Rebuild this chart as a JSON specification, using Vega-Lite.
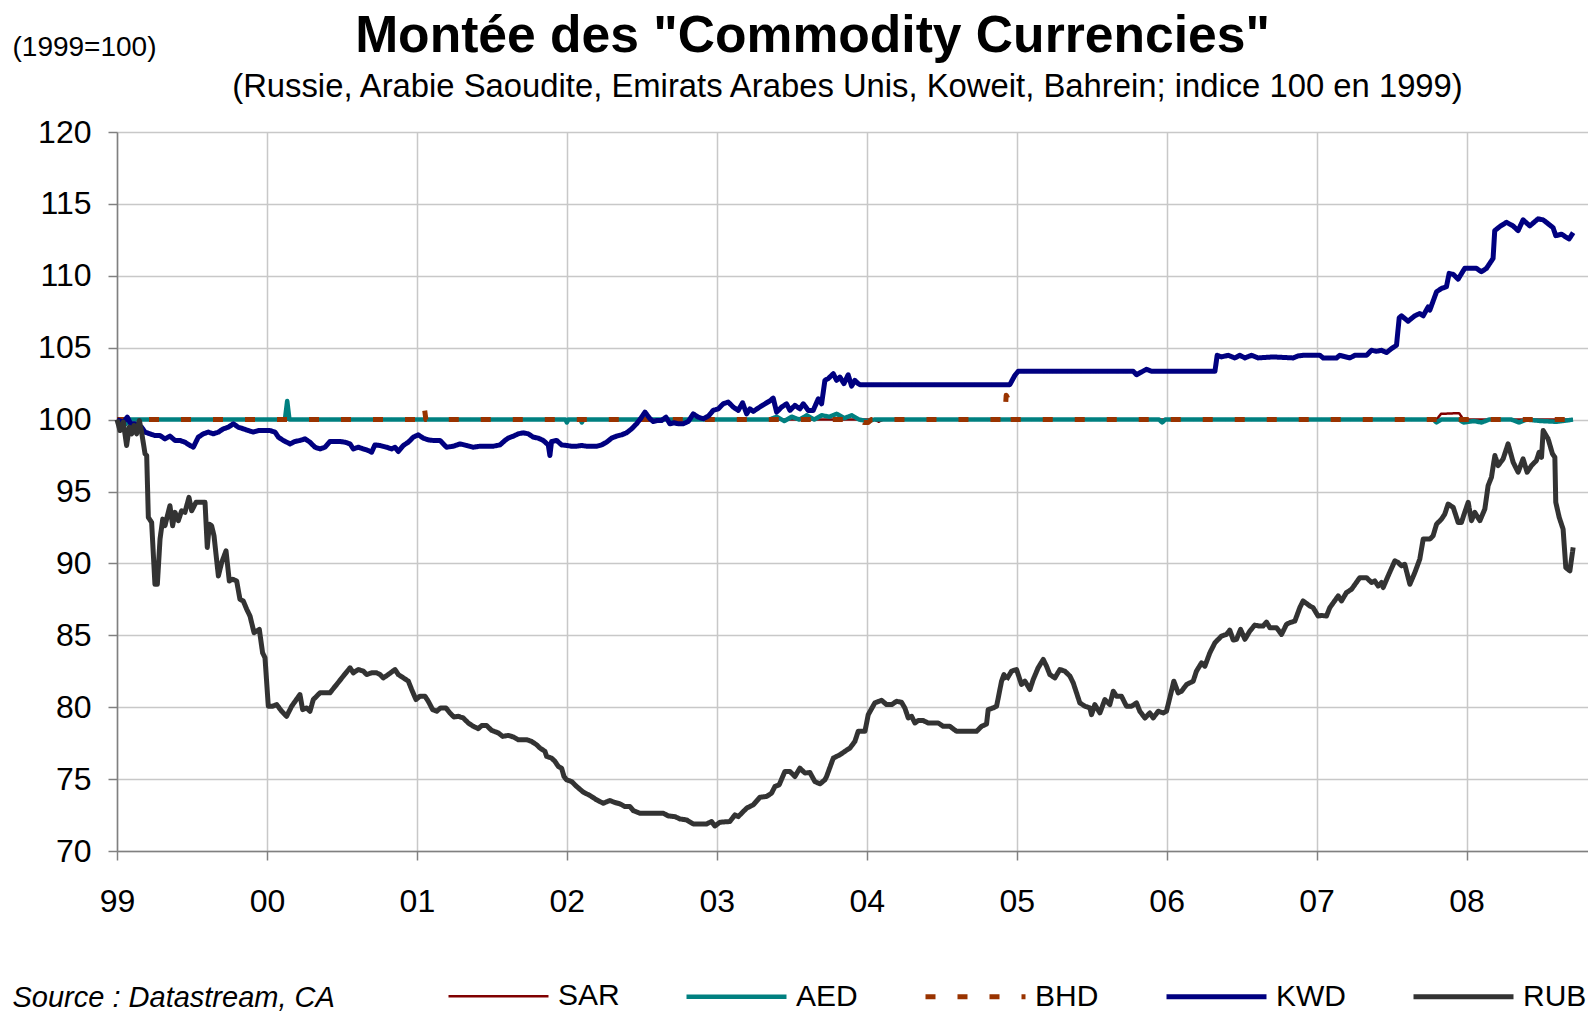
{
"$schema":"https://vega.github.io/schema/vega-lite/v6.json",
"width":1471,"height":719,
"autosize":{"type":"none"},
"padding":{"left":117,"top":132,"right":0,"bottom":163},
"background":"white",
"config":{"view":{"stroke":null},"font":"Liberation Sans"},
"title":{"text":"Montée des \"Commodity Currencies\"","subtitle":"(Russie, Arabie Saoudite, Emirats Arabes Unis, Koweit, Bahrein; indice 100 en 1999)","font":"Liberation Sans","fontSize":51.6,"fontWeight":"bold","color":"black","subtitleFont":"Liberation Sans","subtitleFontSize":32.8,"subtitleColor":"black","subtitlePadding":9,"anchor":"middle","frame":"group","offset":-71,"encode":{"title":{"update":{"dx":{"value":-40}}},"subtitle":{"update":{"dx":{"value":-5}}}}},
"data":{"values":[
{"s":"SAR","t":1999.0,"v":100},{"s":"SAR","t":2004.05,"v":100},{"s":"SAR","t":2004.08,"v":99.85},{"s":"SAR","t":2004.11,"v":100},{"s":"SAR","t":2007.8,"v":100},{"s":"SAR","t":2007.83,"v":100.4},{"s":"SAR","t":2007.95,"v":100.45},{"s":"SAR","t":2007.98,"v":100},{"s":"SAR","t":2008.71,"v":100},
{"s":"AED","t":1999.0,"v":100},{"s":"AED","t":1999.03,"v":99.6},{"s":"AED","t":1999.06,"v":99.7},{"s":"AED","t":1999.08,"v":100},{"s":"AED","t":2000.12,"v":100},{"s":"AED","t":2000.135,"v":101.3},{"s":"AED","t":2000.15,"v":100},{"s":"AED","t":2001.99,"v":100},{"s":"AED","t":2002.0,"v":99.8},{"s":"AED","t":2002.01,"v":100},{"s":"AED","t":2002.09,"v":100},{"s":"AED","t":2002.1,"v":99.8},{"s":"AED","t":2002.11,"v":100},{"s":"AED","t":2003.35,"v":100},{"s":"AED","t":2003.4,"v":100.2},{"s":"AED","t":2003.45,"v":99.9},{"s":"AED","t":2003.5,"v":100.2},{"s":"AED","t":2003.55,"v":100},{"s":"AED","t":2003.6,"v":100.3},{"s":"AED","t":2003.65,"v":100},{"s":"AED","t":2003.7,"v":100.3},{"s":"AED","t":2003.75,"v":100.2},{"s":"AED","t":2003.8,"v":100.4},{"s":"AED","t":2003.85,"v":100.1},{"s":"AED","t":2003.9,"v":100.3},{"s":"AED","t":2003.95,"v":100},{"s":"AED","t":2004.0,"v":99.9},{"s":"AED","t":2004.05,"v":100},{"s":"AED","t":2005.95,"v":100},{"s":"AED","t":2005.97,"v":99.8},{"s":"AED","t":2005.99,"v":100},{"s":"AED","t":2007.78,"v":100},{"s":"AED","t":2007.8,"v":99.8},{"s":"AED","t":2007.83,"v":100},{"s":"AED","t":2007.95,"v":100},{"s":"AED","t":2007.98,"v":99.8},{"s":"AED","t":2008.05,"v":99.9},{"s":"AED","t":2008.1,"v":99.8},{"s":"AED","t":2008.15,"v":100},{"s":"AED","t":2008.3,"v":100},{"s":"AED","t":2008.35,"v":99.8},{"s":"AED","t":2008.4,"v":100},{"s":"AED","t":2008.5,"v":99.9},{"s":"AED","t":2008.6,"v":99.85},{"s":"AED","t":2008.71,"v":100},
{"s":"BHD","t":1999.0,"v":100},{"s":"BHD","t":2001.04,"v":100},{"s":"BHD","t":2001.05,"v":100.8},{"s":"BHD","t":2001.06,"v":100},{"s":"BHD","t":2003.96,"v":100},{"s":"BHD","t":2003.98,"v":99.8},{"s":"BHD","t":2004.01,"v":99.8},{"s":"BHD","t":2004.03,"v":100},{"s":"BHD","t":2004.92,"v":100},{"s":"BHD","t":2004.93,"v":101.7},{"s":"BHD","t":2004.95,"v":101.3},{"s":"BHD","t":2004.96,"v":100},{"s":"BHD","t":2008.71,"v":100},
{"s":"KWD","t":1999.0,"v":100},{"s":"KWD","t":1999.042,"v":99.82},{"s":"KWD","t":1999.069,"v":100.17},{"s":"KWD","t":1999.091,"v":99.71},{"s":"KWD","t":1999.12,"v":99.71},{"s":"KWD","t":1999.164,"v":99.47},{"s":"KWD","t":1999.187,"v":99.13},{"s":"KWD","t":1999.22,"v":99.01},{"s":"KWD","t":1999.253,"v":98.89},{"s":"KWD","t":1999.287,"v":98.89},{"s":"KWD","t":1999.32,"v":98.66},{"s":"KWD","t":1999.353,"v":98.85},{"s":"KWD","t":1999.387,"v":98.55},{"s":"KWD","t":1999.42,"v":98.55},{"s":"KWD","t":1999.453,"v":98.43},{"s":"KWD","t":1999.487,"v":98.2},{"s":"KWD","t":1999.509,"v":98.08},{"s":"KWD","t":1999.542,"v":98.78},{"s":"KWD","t":1999.576,"v":99.01},{"s":"KWD","t":1999.609,"v":99.13},{"s":"KWD","t":1999.642,"v":99.01},{"s":"KWD","t":1999.676,"v":99.13},{"s":"KWD","t":1999.709,"v":99.36},{"s":"KWD","t":1999.742,"v":99.47},{"s":"KWD","t":1999.776,"v":99.71},{"s":"KWD","t":1999.809,"v":99.47},{"s":"KWD","t":1999.842,"v":99.36},{"s":"KWD","t":1999.876,"v":99.24},{"s":"KWD","t":1999.909,"v":99.13},{"s":"KWD","t":1999.942,"v":99.24},{"s":"KWD","t":1999.976,"v":99.24},{"s":"KWD","t":2000.02,"v":99.24},{"s":"KWD","t":2000.054,"v":99.13},{"s":"KWD","t":2000.076,"v":98.78},{"s":"KWD","t":2000.109,"v":98.55},{"s":"KWD","t":2000.154,"v":98.31},{"s":"KWD","t":2000.187,"v":98.48},{"s":"KWD","t":2000.22,"v":98.55},{"s":"KWD","t":2000.254,"v":98.66},{"s":"KWD","t":2000.287,"v":98.43},{"s":"KWD","t":2000.32,"v":98.08},{"s":"KWD","t":2000.354,"v":97.96},{"s":"KWD","t":2000.387,"v":98.08},{"s":"KWD","t":2000.42,"v":98.48},{"s":"KWD","t":2000.487,"v":98.48},{"s":"KWD","t":2000.52,"v":98.43},{"s":"KWD","t":2000.554,"v":98.31},{"s":"KWD","t":2000.576,"v":97.96},{"s":"KWD","t":2000.609,"v":98.08},{"s":"KWD","t":2000.643,"v":97.96},{"s":"KWD","t":2000.676,"v":97.85},{"s":"KWD","t":2000.698,"v":97.73},{"s":"KWD","t":2000.72,"v":98.24},{"s":"KWD","t":2000.754,"v":98.2},{"s":"KWD","t":2000.798,"v":98.08},{"s":"KWD","t":2000.831,"v":97.96},{"s":"KWD","t":2000.854,"v":98.08},{"s":"KWD","t":2000.876,"v":97.78},{"s":"KWD","t":2000.909,"v":98.2},{"s":"KWD","t":2000.943,"v":98.43},{"s":"KWD","t":2000.976,"v":98.78},{"s":"KWD","t":2001.009,"v":98.94},{"s":"KWD","t":2001.043,"v":98.71},{"s":"KWD","t":2001.076,"v":98.59},{"s":"KWD","t":2001.109,"v":98.55},{"s":"KWD","t":2001.154,"v":98.55},{"s":"KWD","t":2001.198,"v":98.08},{"s":"KWD","t":2001.243,"v":98.15},{"s":"KWD","t":2001.287,"v":98.31},{"s":"KWD","t":2001.332,"v":98.2},{"s":"KWD","t":2001.376,"v":98.08},{"s":"KWD","t":2001.42,"v":98.15},{"s":"KWD","t":2001.465,"v":98.15},{"s":"KWD","t":2001.509,"v":98.15},{"s":"KWD","t":2001.554,"v":98.24},{"s":"KWD","t":2001.587,"v":98.55},{"s":"KWD","t":2001.609,"v":98.71},{"s":"KWD","t":2001.643,"v":98.85},{"s":"KWD","t":2001.676,"v":99.01},{"s":"KWD","t":2001.709,"v":99.08},{"s":"KWD","t":2001.743,"v":99.01},{"s":"KWD","t":2001.776,"v":98.78},{"s":"KWD","t":2001.809,"v":98.71},{"s":"KWD","t":2001.843,"v":98.55},{"s":"KWD","t":2001.876,"v":98.24},{"s":"KWD","t":2001.887,"v":97.5},{"s":"KWD","t":2001.898,"v":98.48},{"s":"KWD","t":2001.932,"v":98.55},{"s":"KWD","t":2001.965,"v":98.24},{"s":"KWD","t":2001.998,"v":98.2},{"s":"KWD","t":2002.032,"v":98.15},{"s":"KWD","t":2002.065,"v":98.15},{"s":"KWD","t":2002.098,"v":98.2},{"s":"KWD","t":2002.132,"v":98.15},{"s":"KWD","t":2002.165,"v":98.15},{"s":"KWD","t":2002.198,"v":98.15},{"s":"KWD","t":2002.232,"v":98.24},{"s":"KWD","t":2002.265,"v":98.43},{"s":"KWD","t":2002.298,"v":98.71},{"s":"KWD","t":2002.332,"v":98.85},{"s":"KWD","t":2002.365,"v":98.94},{"s":"KWD","t":2002.398,"v":99.08},{"s":"KWD","t":2002.432,"v":99.36},{"s":"KWD","t":2002.465,"v":99.71},{"s":"KWD","t":2002.494,"v":100.1},{"s":"KWD","t":2002.521,"v":100.52},{"s":"KWD","t":2002.554,"v":100.06},{"s":"KWD","t":2002.576,"v":99.87},{"s":"KWD","t":2002.603,"v":99.94},{"s":"KWD","t":2002.632,"v":99.94},{"s":"KWD","t":2002.661,"v":100.17},{"s":"KWD","t":2002.687,"v":99.71},{"s":"KWD","t":2002.714,"v":99.78},{"s":"KWD","t":2002.743,"v":99.71},{"s":"KWD","t":2002.776,"v":99.71},{"s":"KWD","t":2002.81,"v":99.87},{"s":"KWD","t":2002.843,"v":100.4},{"s":"KWD","t":2002.876,"v":100.17},{"s":"KWD","t":2002.91,"v":100.06},{"s":"KWD","t":2002.943,"v":100.24},{"s":"KWD","t":2002.976,"v":100.64},{"s":"KWD","t":2003.01,"v":100.75},{"s":"KWD","t":2003.043,"v":101.1},{"s":"KWD","t":2003.076,"v":101.22},{"s":"KWD","t":2003.11,"v":100.87},{"s":"KWD","t":2003.143,"v":100.64},{"s":"KWD","t":2003.172,"v":101.17},{"s":"KWD","t":2003.199,"v":100.4},{"s":"KWD","t":2003.221,"v":100.75},{"s":"KWD","t":2003.243,"v":100.57},{"s":"KWD","t":2003.276,"v":100.8},{"s":"KWD","t":2003.31,"v":101.03},{"s":"KWD","t":2003.354,"v":101.3},{"s":"KWD","t":2003.376,"v":101.5},{"s":"KWD","t":2003.399,"v":100.52},{"s":"KWD","t":2003.432,"v":100.87},{"s":"KWD","t":2003.465,"v":101.1},{"s":"KWD","t":2003.488,"v":100.64},{"s":"KWD","t":2003.521,"v":100.99},{"s":"KWD","t":2003.554,"v":100.75},{"s":"KWD","t":2003.577,"v":101.1},{"s":"KWD","t":2003.61,"v":100.64},{"s":"KWD","t":2003.643,"v":100.64},{"s":"KWD","t":2003.677,"v":101.45},{"s":"KWD","t":2003.699,"v":101.1},{"s":"KWD","t":2003.721,"v":102.73},{"s":"KWD","t":2003.743,"v":102.85},{"s":"KWD","t":2003.777,"v":103.19},{"s":"KWD","t":2003.799,"v":102.73},{"s":"KWD","t":2003.821,"v":102.96},{"s":"KWD","t":2003.848,"v":102.5},{"s":"KWD","t":2003.876,"v":103.12},{"s":"KWD","t":2003.899,"v":102.33},{"s":"KWD","t":2003.921,"v":102.73},{"s":"KWD","t":2003.943,"v":102.5},{"s":"KWD","t":2003.954,"v":102.43},{"s":"KWD","t":2004.954,"v":102.43},{"s":"KWD","t":2004.988,"v":103.08},{"s":"KWD","t":2005.01,"v":103.36},{"s":"KWD","t":2005.777,"v":103.36},{"s":"KWD","t":2005.799,"v":103.12},{"s":"KWD","t":2005.832,"v":103.31},{"s":"KWD","t":2005.866,"v":103.5},{"s":"KWD","t":2005.899,"v":103.36},{"s":"KWD","t":2006.322,"v":103.36},{"s":"KWD","t":2006.337,"v":104.47},{"s":"KWD","t":2006.366,"v":104.36},{"s":"KWD","t":2006.41,"v":104.47},{"s":"KWD","t":2006.455,"v":104.29},{"s":"KWD","t":2006.488,"v":104.47},{"s":"KWD","t":2006.522,"v":104.29},{"s":"KWD","t":2006.566,"v":104.47},{"s":"KWD","t":2006.61,"v":104.29},{"s":"KWD","t":2006.71,"v":104.36},{"s":"KWD","t":2006.844,"v":104.29},{"s":"KWD","t":2006.877,"v":104.43},{"s":"KWD","t":2006.91,"v":104.47},{"s":"KWD","t":2007.022,"v":104.47},{"s":"KWD","t":2007.044,"v":104.29},{"s":"KWD","t":2007.133,"v":104.29},{"s":"KWD","t":2007.155,"v":104.47},{"s":"KWD","t":2007.222,"v":104.29},{"s":"KWD","t":2007.255,"v":104.47},{"s":"KWD","t":2007.333,"v":104.47},{"s":"KWD","t":2007.366,"v":104.82},{"s":"KWD","t":2007.399,"v":104.75},{"s":"KWD","t":2007.433,"v":104.82},{"s":"KWD","t":2007.466,"v":104.66},{"s":"KWD","t":2007.5,"v":104.94},{"s":"KWD","t":2007.533,"v":105.17},{"s":"KWD","t":2007.551,"v":107.08},{"s":"KWD","t":2007.566,"v":107.22},{"s":"KWD","t":2007.61,"v":106.84},{"s":"KWD","t":2007.655,"v":107.22},{"s":"KWD","t":2007.688,"v":107.38},{"s":"KWD","t":2007.711,"v":107.22},{"s":"KWD","t":2007.744,"v":107.84},{"s":"KWD","t":2007.755,"v":107.61},{"s":"KWD","t":2007.8,"v":108.89},{"s":"KWD","t":2007.833,"v":109.12},{"s":"KWD","t":2007.866,"v":109.24},{"s":"KWD","t":2007.884,"v":110.17},{"s":"KWD","t":2007.911,"v":110.1},{"s":"KWD","t":2007.944,"v":109.77},{"s":"KWD","t":2007.988,"v":110.52},{"s":"KWD","t":2008.066,"v":110.52},{"s":"KWD","t":2008.099,"v":110.28},{"s":"KWD","t":2008.133,"v":110.52},{"s":"KWD","t":2008.177,"v":111.21},{"s":"KWD","t":2008.188,"v":113.14},{"s":"KWD","t":2008.221,"v":113.42},{"s":"KWD","t":2008.266,"v":113.72},{"s":"KWD","t":2008.31,"v":113.47},{"s":"KWD","t":2008.344,"v":113.14},{"s":"KWD","t":2008.377,"v":113.89},{"s":"KWD","t":2008.422,"v":113.47},{"s":"KWD","t":2008.477,"v":113.96},{"s":"KWD","t":2008.511,"v":113.89},{"s":"KWD","t":2008.577,"v":113.35},{"s":"KWD","t":2008.595,"v":112.79},{"s":"KWD","t":2008.633,"v":112.89},{"s":"KWD","t":2008.684,"v":112.56},{"s":"KWD","t":2008.711,"v":113.0},
{"s":"RUB","t":1999.0,"v":100},{"s":"RUB","t":1999.02,"v":99.24},{"s":"RUB","t":1999.042,"v":99.82},{"s":"RUB","t":1999.064,"v":98.2},{"s":"RUB","t":1999.082,"v":99.47},{"s":"RUB","t":1999.098,"v":99.01},{"s":"RUB","t":1999.113,"v":99.59},{"s":"RUB","t":1999.131,"v":99.01},{"s":"RUB","t":1999.149,"v":99.94},{"s":"RUB","t":1999.164,"v":99.13},{"s":"RUB","t":1999.187,"v":97.62},{"s":"RUB","t":1999.198,"v":97.5},{"s":"RUB","t":1999.209,"v":93.2},{"s":"RUB","t":1999.231,"v":92.85},{"s":"RUB","t":1999.253,"v":88.55},{"s":"RUB","t":1999.269,"v":88.55},{"s":"RUB","t":1999.287,"v":91.69},{"s":"RUB","t":1999.305,"v":93.08},{"s":"RUB","t":1999.32,"v":92.62},{"s":"RUB","t":1999.336,"v":93.31},{"s":"RUB","t":1999.353,"v":94.01},{"s":"RUB","t":1999.371,"v":92.62},{"s":"RUB","t":1999.387,"v":93.55},{"s":"RUB","t":1999.409,"v":92.97},{"s":"RUB","t":1999.431,"v":93.66},{"s":"RUB","t":1999.453,"v":93.55},{"s":"RUB","t":1999.48,"v":94.59},{"s":"RUB","t":1999.498,"v":93.66},{"s":"RUB","t":1999.527,"v":94.25},{"s":"RUB","t":1999.587,"v":94.25},{"s":"RUB","t":1999.602,"v":91.11},{"s":"RUB","t":1999.616,"v":92.73},{"s":"RUB","t":1999.631,"v":92.62},{"s":"RUB","t":1999.647,"v":91.92},{"s":"RUB","t":1999.676,"v":89.13},{"s":"RUB","t":1999.698,"v":90.06},{"s":"RUB","t":1999.727,"v":90.87},{"s":"RUB","t":1999.749,"v":88.78},{"s":"RUB","t":1999.771,"v":88.9},{"s":"RUB","t":1999.798,"v":88.78},{"s":"RUB","t":1999.82,"v":87.5},{"s":"RUB","t":1999.842,"v":87.39},{"s":"RUB","t":1999.865,"v":86.81},{"s":"RUB","t":1999.887,"v":86.34},{"s":"RUB","t":1999.914,"v":85.18},{"s":"RUB","t":1999.949,"v":85.41},{"s":"RUB","t":1999.971,"v":83.78},{"s":"RUB","t":1999.987,"v":83.44},{"s":"RUB","t":2000.009,"v":80.07},{"s":"RUB","t":2000.038,"v":80.07},{"s":"RUB","t":2000.065,"v":80.18},{"s":"RUB","t":2000.098,"v":79.72},{"s":"RUB","t":2000.131,"v":79.37},{"s":"RUB","t":2000.165,"v":80.07},{"s":"RUB","t":2000.22,"v":80.88},{"s":"RUB","t":2000.238,"v":79.83},{"s":"RUB","t":2000.265,"v":79.95},{"s":"RUB","t":2000.287,"v":79.72},{"s":"RUB","t":2000.309,"v":80.53},{"s":"RUB","t":2000.354,"v":81.0},{"s":"RUB","t":2000.387,"v":81.0},{"s":"RUB","t":2000.42,"v":81.0},{"s":"RUB","t":2000.465,"v":81.58},{"s":"RUB","t":2000.509,"v":82.16},{"s":"RUB","t":2000.554,"v":82.74},{"s":"RUB","t":2000.576,"v":82.39},{"s":"RUB","t":2000.609,"v":82.62},{"s":"RUB","t":2000.643,"v":82.51},{"s":"RUB","t":2000.665,"v":82.27},{"s":"RUB","t":2000.698,"v":82.39},{"s":"RUB","t":2000.731,"v":82.39},{"s":"RUB","t":2000.754,"v":82.27},{"s":"RUB","t":2000.776,"v":82.04},{"s":"RUB","t":2000.809,"v":82.27},{"s":"RUB","t":2000.854,"v":82.62},{"s":"RUB","t":2000.876,"v":82.27},{"s":"RUB","t":2000.92,"v":81.97},{"s":"RUB","t":2000.943,"v":81.81},{"s":"RUB","t":2000.965,"v":81.23},{"s":"RUB","t":2000.994,"v":80.53},{"s":"RUB","t":2001.02,"v":80.76},{"s":"RUB","t":2001.054,"v":80.76},{"s":"RUB","t":2001.076,"v":80.41},{"s":"RUB","t":2001.105,"v":79.83},{"s":"RUB","t":2001.132,"v":79.72},{"s":"RUB","t":2001.158,"v":79.95},{"s":"RUB","t":2001.194,"v":79.95},{"s":"RUB","t":2001.22,"v":79.6},{"s":"RUB","t":2001.247,"v":79.32},{"s":"RUB","t":2001.276,"v":79.37},{"s":"RUB","t":2001.309,"v":79.25},{"s":"RUB","t":2001.343,"v":78.9},{"s":"RUB","t":2001.376,"v":78.67},{"s":"RUB","t":2001.409,"v":78.51},{"s":"RUB","t":2001.432,"v":78.72},{"s":"RUB","t":2001.465,"v":78.72},{"s":"RUB","t":2001.498,"v":78.39},{"s":"RUB","t":2001.543,"v":78.21},{"s":"RUB","t":2001.572,"v":77.97},{"s":"RUB","t":2001.609,"v":78.04},{"s":"RUB","t":2001.643,"v":77.93},{"s":"RUB","t":2001.676,"v":77.74},{"s":"RUB","t":2001.732,"v":77.74},{"s":"RUB","t":2001.765,"v":77.62},{"s":"RUB","t":2001.798,"v":77.39},{"s":"RUB","t":2001.821,"v":77.16},{"s":"RUB","t":2001.854,"v":76.93},{"s":"RUB","t":2001.865,"v":76.58},{"s":"RUB","t":2001.898,"v":76.46},{"s":"RUB","t":2001.921,"v":76.23},{"s":"RUB","t":2001.943,"v":75.88},{"s":"RUB","t":2001.965,"v":75.76},{"s":"RUB","t":2001.981,"v":75.18},{"s":"RUB","t":2001.998,"v":74.95},{"s":"RUB","t":2002.032,"v":74.83},{"s":"RUB","t":2002.065,"v":74.49},{"s":"RUB","t":2002.11,"v":74.09},{"s":"RUB","t":2002.154,"v":73.86},{"s":"RUB","t":2002.198,"v":73.56},{"s":"RUB","t":2002.243,"v":73.32},{"s":"RUB","t":2002.287,"v":73.51},{"s":"RUB","t":2002.321,"v":73.37},{"s":"RUB","t":2002.354,"v":73.28},{"s":"RUB","t":2002.387,"v":73.09},{"s":"RUB","t":2002.421,"v":73.09},{"s":"RUB","t":2002.443,"v":72.81},{"s":"RUB","t":2002.487,"v":72.63},{"s":"RUB","t":2002.576,"v":72.63},{"s":"RUB","t":2002.643,"v":72.63},{"s":"RUB","t":2002.676,"v":72.44},{"s":"RUB","t":2002.721,"v":72.39},{"s":"RUB","t":2002.754,"v":72.23},{"s":"RUB","t":2002.799,"v":72.16},{"s":"RUB","t":2002.843,"v":71.88},{"s":"RUB","t":2002.932,"v":71.88},{"s":"RUB","t":2002.965,"v":72.05},{"s":"RUB","t":2002.987,"v":71.74},{"s":"RUB","t":2003.021,"v":72.0},{"s":"RUB","t":2003.087,"v":72.05},{"s":"RUB","t":2003.121,"v":72.51},{"s":"RUB","t":2003.143,"v":72.39},{"s":"RUB","t":2003.199,"v":72.98},{"s":"RUB","t":2003.243,"v":73.21},{"s":"RUB","t":2003.288,"v":73.74},{"s":"RUB","t":2003.332,"v":73.79},{"s":"RUB","t":2003.365,"v":74.02},{"s":"RUB","t":2003.388,"v":74.49},{"s":"RUB","t":2003.416,"v":74.6},{"s":"RUB","t":2003.454,"v":75.53},{"s":"RUB","t":2003.488,"v":75.53},{"s":"RUB","t":2003.521,"v":75.18},{"s":"RUB","t":2003.554,"v":75.76},{"s":"RUB","t":2003.588,"v":75.42},{"s":"RUB","t":2003.621,"v":75.46},{"s":"RUB","t":2003.654,"v":74.83},{"s":"RUB","t":2003.688,"v":74.67},{"s":"RUB","t":2003.721,"v":74.95},{"s":"RUB","t":2003.732,"v":75.18},{"s":"RUB","t":2003.777,"v":76.46},{"s":"RUB","t":2003.821,"v":76.69},{"s":"RUB","t":2003.854,"v":76.93},{"s":"RUB","t":2003.888,"v":77.16},{"s":"RUB","t":2003.921,"v":77.62},{"s":"RUB","t":2003.943,"v":78.32},{"s":"RUB","t":2003.988,"v":78.32},{"s":"RUB","t":2004.01,"v":79.48},{"s":"RUB","t":2004.054,"v":80.3},{"s":"RUB","t":2004.099,"v":80.48},{"s":"RUB","t":2004.132,"v":80.18},{"s":"RUB","t":2004.166,"v":80.18},{"s":"RUB","t":2004.199,"v":80.41},{"s":"RUB","t":2004.232,"v":80.34},{"s":"RUB","t":2004.254,"v":79.95},{"s":"RUB","t":2004.277,"v":79.25},{"s":"RUB","t":2004.299,"v":79.37},{"s":"RUB","t":2004.321,"v":78.9},{"s":"RUB","t":2004.343,"v":79.07},{"s":"RUB","t":2004.377,"v":79.07},{"s":"RUB","t":2004.41,"v":78.9},{"s":"RUB","t":2004.477,"v":78.9},{"s":"RUB","t":2004.51,"v":78.67},{"s":"RUB","t":2004.554,"v":78.67},{"s":"RUB","t":2004.599,"v":78.32},{"s":"RUB","t":2004.732,"v":78.32},{"s":"RUB","t":2004.766,"v":78.67},{"s":"RUB","t":2004.799,"v":78.83},{"s":"RUB","t":2004.81,"v":79.83},{"s":"RUB","t":2004.843,"v":79.95},{"s":"RUB","t":2004.866,"v":80.07},{"s":"RUB","t":2004.899,"v":81.81},{"s":"RUB","t":2004.915,"v":82.27},{"s":"RUB","t":2004.932,"v":81.92},{"s":"RUB","t":2004.966,"v":82.51},{"s":"RUB","t":2004.999,"v":82.62},{"s":"RUB","t":2005.032,"v":81.58},{"s":"RUB","t":2005.055,"v":81.81},{"s":"RUB","t":2005.088,"v":81.23},{"s":"RUB","t":2005.11,"v":81.92},{"s":"RUB","t":2005.143,"v":82.74},{"s":"RUB","t":2005.177,"v":83.32},{"s":"RUB","t":2005.199,"v":82.85},{"s":"RUB","t":2005.221,"v":82.27},{"s":"RUB","t":2005.255,"v":82.04},{"s":"RUB","t":2005.288,"v":82.62},{"s":"RUB","t":2005.321,"v":82.51},{"s":"RUB","t":2005.355,"v":82.16},{"s":"RUB","t":2005.377,"v":81.69},{"s":"RUB","t":2005.399,"v":81.0},{"s":"RUB","t":2005.421,"v":80.3},{"s":"RUB","t":2005.455,"v":80.07},{"s":"RUB","t":2005.488,"v":79.95},{"s":"RUB","t":2005.499,"v":79.48},{"s":"RUB","t":2005.521,"v":80.18},{"s":"RUB","t":2005.555,"v":79.6},{"s":"RUB","t":2005.588,"v":80.53},{"s":"RUB","t":2005.621,"v":80.18},{"s":"RUB","t":2005.644,"v":81.11},{"s":"RUB","t":2005.666,"v":80.76},{"s":"RUB","t":2005.699,"v":80.76},{"s":"RUB","t":2005.732,"v":80.07},{"s":"RUB","t":2005.766,"v":80.07},{"s":"RUB","t":2005.799,"v":80.3},{"s":"RUB","t":2005.821,"v":79.72},{"s":"RUB","t":2005.855,"v":79.25},{"s":"RUB","t":2005.888,"v":79.6},{"s":"RUB","t":2005.91,"v":79.25},{"s":"RUB","t":2005.944,"v":79.72},{"s":"RUB","t":2005.977,"v":79.6},{"s":"RUB","t":2005.999,"v":79.72},{"s":"RUB","t":2006.021,"v":80.65},{"s":"RUB","t":2006.048,"v":81.81},{"s":"RUB","t":2006.077,"v":81.0},{"s":"RUB","t":2006.099,"v":81.11},{"s":"RUB","t":2006.133,"v":81.58},{"s":"RUB","t":2006.177,"v":81.81},{"s":"RUB","t":2006.199,"v":82.51},{"s":"RUB","t":2006.233,"v":83.09},{"s":"RUB","t":2006.255,"v":82.85},{"s":"RUB","t":2006.288,"v":83.78},{"s":"RUB","t":2006.322,"v":84.48},{"s":"RUB","t":2006.366,"v":84.95},{"s":"RUB","t":2006.399,"v":85.06},{"s":"RUB","t":2006.421,"v":85.36},{"s":"RUB","t":2006.444,"v":84.67},{"s":"RUB","t":2006.466,"v":84.72},{"s":"RUB","t":2006.493,"v":85.41},{"s":"RUB","t":2006.522,"v":84.72},{"s":"RUB","t":2006.555,"v":85.3},{"s":"RUB","t":2006.588,"v":85.71},{"s":"RUB","t":2006.621,"v":85.64},{"s":"RUB","t":2006.643,"v":85.64},{"s":"RUB","t":2006.666,"v":85.92},{"s":"RUB","t":2006.688,"v":85.53},{"s":"RUB","t":2006.733,"v":85.53},{"s":"RUB","t":2006.766,"v":85.06},{"s":"RUB","t":2006.799,"v":85.76},{"s":"RUB","t":2006.821,"v":85.88},{"s":"RUB","t":2006.855,"v":85.99},{"s":"RUB","t":2006.888,"v":86.92},{"s":"RUB","t":2006.91,"v":87.39},{"s":"RUB","t":2006.955,"v":87.04},{"s":"RUB","t":2006.977,"v":86.92},{"s":"RUB","t":2007.01,"v":86.34},{"s":"RUB","t":2007.033,"v":86.38},{"s":"RUB","t":2007.066,"v":86.34},{"s":"RUB","t":2007.088,"v":86.92},{"s":"RUB","t":2007.144,"v":87.74},{"s":"RUB","t":2007.166,"v":87.39},{"s":"RUB","t":2007.199,"v":87.97},{"s":"RUB","t":2007.233,"v":88.2},{"s":"RUB","t":2007.288,"v":89.01},{"s":"RUB","t":2007.333,"v":89.01},{"s":"RUB","t":2007.366,"v":88.67},{"s":"RUB","t":2007.388,"v":88.78},{"s":"RUB","t":2007.411,"v":88.43},{"s":"RUB","t":2007.433,"v":88.67},{"s":"RUB","t":2007.444,"v":88.32},{"s":"RUB","t":2007.477,"v":89.13},{"s":"RUB","t":2007.522,"v":90.18},{"s":"RUB","t":2007.544,"v":90.06},{"s":"RUB","t":2007.566,"v":89.83},{"s":"RUB","t":2007.588,"v":89.94},{"s":"RUB","t":2007.622,"v":88.55},{"s":"RUB","t":2007.655,"v":89.36},{"s":"RUB","t":2007.688,"v":90.29},{"s":"RUB","t":2007.711,"v":91.69},{"s":"RUB","t":2007.755,"v":91.69},{"s":"RUB","t":2007.777,"v":91.92},{"s":"RUB","t":2007.8,"v":92.73},{"s":"RUB","t":2007.833,"v":93.08},{"s":"RUB","t":2007.855,"v":93.43},{"s":"RUB","t":2007.877,"v":94.13},{"s":"RUB","t":2007.911,"v":93.9},{"s":"RUB","t":2007.944,"v":92.85},{"s":"RUB","t":2007.966,"v":92.85},{"s":"RUB","t":2007.988,"v":93.55},{"s":"RUB","t":2008.011,"v":94.25},{"s":"RUB","t":2008.033,"v":92.97},{"s":"RUB","t":2008.055,"v":93.55},{"s":"RUB","t":2008.089,"v":92.97},{"s":"RUB","t":2008.122,"v":93.78},{"s":"RUB","t":2008.144,"v":95.41},{"s":"RUB","t":2008.166,"v":95.99},{"s":"RUB","t":2008.189,"v":97.5},{"s":"RUB","t":2008.211,"v":96.8},{"s":"RUB","t":2008.244,"v":97.27},{"s":"RUB","t":2008.277,"v":98.31},{"s":"RUB","t":2008.311,"v":97.03},{"s":"RUB","t":2008.344,"v":96.34},{"s":"RUB","t":2008.377,"v":97.27},{"s":"RUB","t":2008.404,"v":96.34},{"s":"RUB","t":2008.433,"v":96.8},{"s":"RUB","t":2008.466,"v":97.15},{"s":"RUB","t":2008.484,"v":97.73},{"s":"RUB","t":2008.5,"v":97.38},{"s":"RUB","t":2008.511,"v":99.24},{"s":"RUB","t":2008.544,"v":98.66},{"s":"RUB","t":2008.573,"v":97.62},{"s":"RUB","t":2008.589,"v":97.38},{"s":"RUB","t":2008.595,"v":94.25},{"s":"RUB","t":2008.618,"v":93.2},{"s":"RUB","t":2008.644,"v":92.38},{"s":"RUB","t":2008.662,"v":89.71},{"s":"RUB","t":2008.689,"v":89.48},{"s":"RUB","t":2008.711,"v":91.11}
]},
"mark":{"type":"line","strokeJoin":"round","strokeCap":"butt"},
"encoding":{
"x":{"field":"t","type":"quantitative","scale":{"domain":[1999,2008.81],"nice":false,"zero":false},
"axis":{"values":[1999,2000,2001,2002,2003,2004,2005,2006,2007,2008],"format":"d","labelExpr":"slice(datum.label, 2)","labelFlush":false,"labelOverlap":false,"labelFont":"Liberation Sans","labelFontSize":32,"labelColor":"black","labelPadding":26,"tickSize":9,"tickColor":"#808080","tickWidth":1.5,"domainColor":"#808080","domainWidth":1.5,"grid":true,"gridColor":"#c8c8c8","gridWidth":1.5,
"title":"Source : Datastream, CA","titleFont":"Liberation Sans","titleFontSize":29,"titleFontStyle":"italic","titleFontWeight":"normal","titleColor":"black","titleX":-105,"titleY":146,"titleAlign":"left","titleBaseline":"middle","titleAngle":0}},
"y":{"field":"v","type":"quantitative","scale":{"domain":[70,120],"nice":false,"zero":false},
"axis":{"values":[70,75,80,85,90,95,100,105,110,115,120],"labelFlush":false,"labelOverlap":false,"labelFont":"Liberation Sans","labelFontSize":32,"labelColor":"black","labelPadding":17,"tickSize":9,"tickColor":"#808080","tickWidth":1.5,"domainColor":"#808080","domainWidth":1.5,"grid":true,"gridColor":"#c8c8c8","gridWidth":1.5,
"title":"(1999=100)","titleFont":"Liberation Sans","titleFontSize":28,"titleFontWeight":"normal","titleColor":"black","titleAngle":0,"titleX":-105,"titleY":-85,"titleAlign":"left","titleBaseline":"middle"}},
"color":{"field":"s","type":"nominal","scale":{"domain":["SAR","AED","BHD","KWD","RUB"],"range":["#800000","#008080","#993300","#000080","#333333"]},
"legend":{"orient":"none","legendX":329,"legendY":812,"direction":"horizontal","columns":5,"title":null,"symbolType":"stroke","symbolSize":10000,"labelFont":"Liberation Sans","labelFontSize":30,"labelColor":"black","labelOffset":7,"columnPadding":57,"padding":0,"labelBaseline":"middle"}},
"strokeDash":{"field":"s","type":"nominal","scale":{"domain":["SAR","AED","BHD","KWD","RUB"],"range":[[1,0],[1,0],[10,22],[1,0],[1,0]]}},
"strokeWidth":{"field":"s","type":"ordinal","scale":{"type":"ordinal","domain":["SAR","AED","BHD","KWD","RUB"],"range":[2.5,4.5,5,5,5]}}
}
}
